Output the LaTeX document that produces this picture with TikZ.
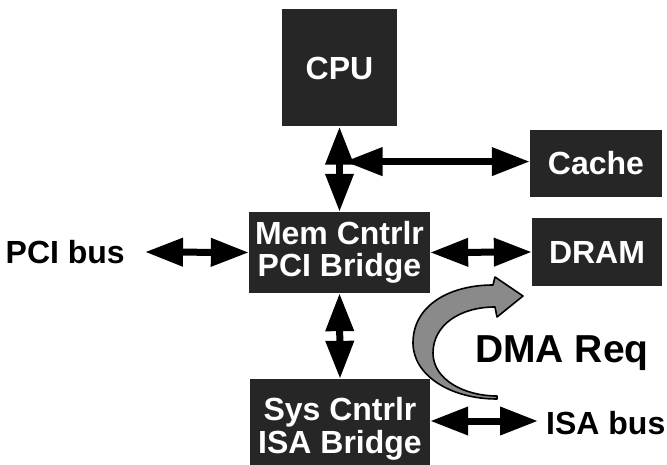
\documentclass[tikz,border=0pt]{standalone}
\usepackage{fontspec}
\setmainfont{Liberation Sans}
\usetikzlibrary{arrows.meta,calc}
\definecolor{boxgray}{HTML}{262626}
\definecolor{dmagray}{HTML}{8A8A8A}
\begin{document}
\begin{tikzpicture}[x=1pt,y=1pt,
  box/.style={fill=boxgray, text=white, font=\fontsize{32}{32.5}\selectfont\bfseries, align=center, inner sep=0pt},
  lbl/.style={font=\fontsize{32}{32.5}\selectfont\bfseries, inner sep=0pt},
  biarrow/.style={line width=7pt, {Triangle[length=38pt,width=27pt]}-{Triangle[length=38pt,width=27pt]}},
  dmaarrow/.style={fill=dmagray, draw=black, line width=1.6pt, line join=round}]
\clip (0,0) rectangle (667,-465);
% boxes
\node[box, minimum width=115pt, minimum height=117pt] (cpu) at (339.5,-68) {CPU};
\node[box, minimum width=132pt, minimum height=67pt] (cache) at (596,-163.5) {Cache};
\node[box, minimum width=181pt, minimum height=81pt] (mem) at (339.5,-252.5) {Mem Cntrlr\\PCI Bridge};
\node[box, minimum width=130pt, minimum height=68pt] (dram) at (597,-252) {DRAM};
\node[box, minimum width=180pt, minimum height=100pt] (sys) at (340,-429) {Sys Cntrlr\\ISA Bridge};
% labels
\node[lbl, anchor=east] (pci) at (125,-252) {PCI bus};
\node[lbl, anchor=west] (isa) at (546,-423) {ISA bus};
\node[lbl, font=\fontsize{39}{40}\selectfont\bfseries] (dma) at (562,-353) {DMA Req};
% connectors
\draw[biarrow] (cpu.south) -- (mem.north);
\coordinate (j) at ($(cpu.south)!0.41!(mem.north)+(5,0)$);
\draw[biarrow] (j) -- (j -| cache.west);
\draw[biarrow] ([xshift=20pt]pci.east) -- (mem.west);
\draw[biarrow] (mem.east) -- (dram.west);
\draw[biarrow] (mem.south) -- (sys.north);
\coordinate (isaend) at ([xshift=-8pt,yshift=2pt]isa.west);
\draw[biarrow] (isaend -| sys.east) -- (isaend);
% curved DMA arrow
\draw[dmaarrow] (497,-399) .. controls (450,-399) and (413,-375) .. (413,-343)
  .. controls (413,-305) and (450,-285) .. (493,-285)
  -- (495,-277) -- (523,-296) -- (497,-317) -- (495,-307)
  .. controls (460,-307) and (433,-325) .. (433,-353)
  .. controls (433,-380) and (465,-396) .. (497,-396) -- cycle;
\end{tikzpicture}
\end{document}
